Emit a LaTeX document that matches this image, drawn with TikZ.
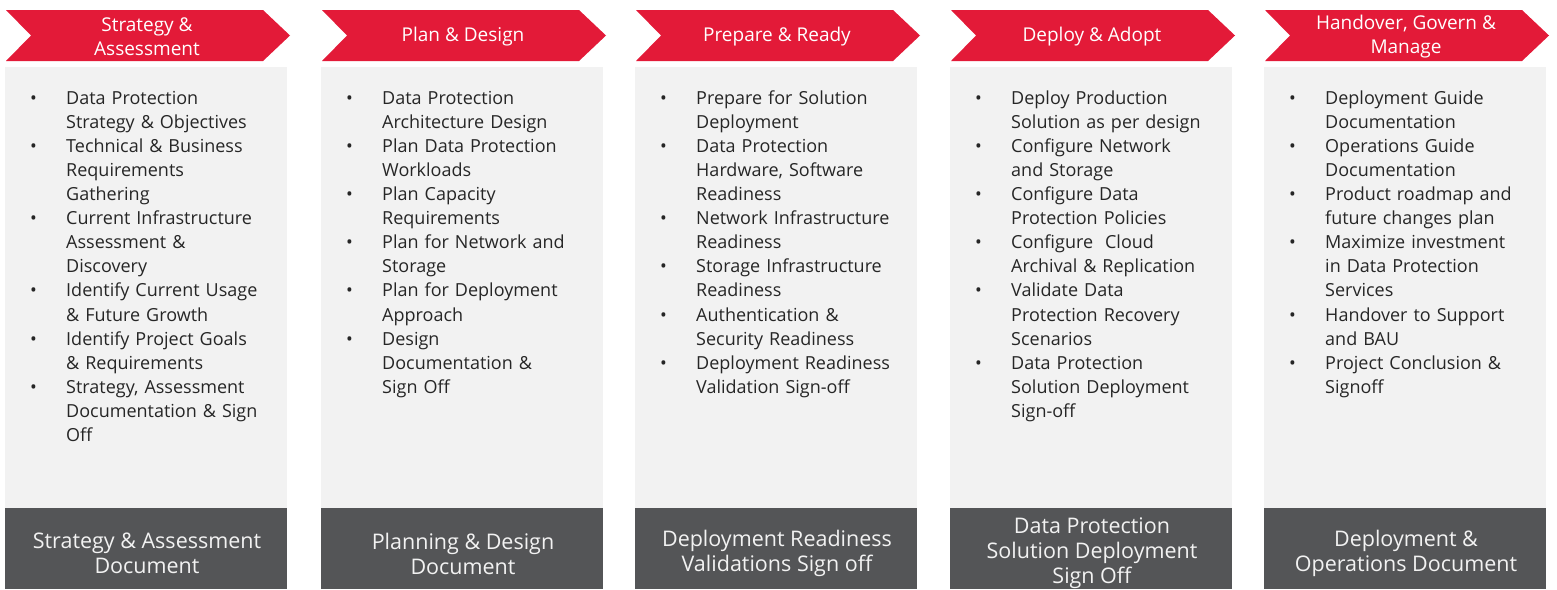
\documentclass[tikz,border=0pt]{standalone}
\usepackage{fontspec}
\setmainfont{Open Sans}
\definecolor{cred}{RGB}{227,26,56}
\definecolor{cpanel}{RGB}{242,242,242}
\definecolor{cdark}{RGB}{84,85,87}
\definecolor{ctext}{RGB}{38,38,38}
\definecolor{cfoot}{RGB}{242,242,242}
\newcommand{\itm}[1]{\par\hangindent=36pt\hangafter=1\noindent\makebox[36pt][l]{\textbullet}#1}
\tikzset{
  headtext/.style={text=white, align=center, inner sep=0pt, font=\fontsize{19}{24}\selectfont},
  listtext/.style={text=ctext, text width=250pt, inner sep=0pt, font=\fontsize{18}{24.1}\selectfont, anchor=base west},
  foottext/.style={text=cfoot, align=center, inner sep=0pt, font=\fontsize{21.5}{25}\selectfont},
}
\newcommand{\phasecol}[5]{%
  \fill[cpanel] (#2,67) rectangle ++(282,441);
  \fill[cdark] (#2,508) rectangle ++(282,81);
  \fill[cred] (#2+1,10) -- (#2+258,10) -- (#2+285,35.5) -- (#2+258,61) -- (#2+1,61) -- (#2+26,35.5) -- cycle;
  \node[headtext] (h#1) at (#2+142,37) {#3};
  \node[listtext] (l#1) at (#2+25,80) {\raggedright #4\par};
  \node[foottext] (f#1) at (#2+142,553.5) {#5};
}
\begin{document}
\begin{tikzpicture}[x=1pt,y=-1pt]
\useasboundingbox (0,0) rectangle (1557,589);
\phasecol{1}{5}{Strategy \&\\Assessment}{%
\itm{Data Protection\newline Strategy \& Objectives}%
\itm{Technical \& Business\newline Requirements\newline Gathering}%
\itm{Current Infrastructure\newline Assessment \&\newline Discovery}%
\itm{Identify Current Usage\newline \& Future Growth}%
\itm{Identify Project Goals\newline \& Requirements}%
\itm{Strategy, Assessment\newline Documentation \& Sign\newline Off}}{Strategy \& Assessment\\Document}
\phasecol{2}{321}{Plan \& Design}{%
\itm{Data Protection\newline Architecture Design}%
\itm{Plan Data Protection\newline Workloads}%
\itm{Plan Capacity\newline Requirements}%
\itm{Plan for Network and\newline Storage}%
\itm{Plan for Deployment\newline Approach}%
\itm{Design\newline Documentation \&\newline Sign Off}}{Planning \& Design\\Document}
\phasecol{3}{635}{Prepare \& Ready}{%
\itm{Prepare for Solution\newline Deployment}%
\itm{Data Protection\newline Hardware, Software\newline Readiness}%
\itm{Network Infrastructure\newline Readiness}%
\itm{Storage Infrastructure\newline Readiness}%
\itm{Authentication \&\newline Security Readiness}%
\itm{Deployment Readiness\newline Validation Sign-off}}{Deployment Readiness\\Validations Sign off}
\phasecol{4}{950}{Deploy \& Adopt}{%
\itm{Deploy Production\newline Solution as per design}%
\itm{Configure Network\newline and Storage}%
\itm{Configure Data\newline Protection Policies}%
\itm{Configure\ \ Cloud\newline Archival \& Replication}%
\itm{Validate Data\newline Protection Recovery\newline Scenarios}%
\itm{Data Protection\newline Solution Deployment\newline Sign-off}}{Data Protection\\Solution Deployment\\Sign Off}
\phasecol{5}{1264}{Handover, Govern \&\\Manage}{%
\itm{Deployment Guide\newline Documentation}%
\itm{Operations Guide\newline Documentation}%
\itm{Product roadmap and\newline future changes plan}%
\itm{Maximize investment\newline in Data Protection\newline Services}%
\itm{Handover to Support\newline and BAU}%
\itm{Project Conclusion \&\newline Signoff}}{Deployment \&\\Operations Document}
\end{tikzpicture}
\end{document}
